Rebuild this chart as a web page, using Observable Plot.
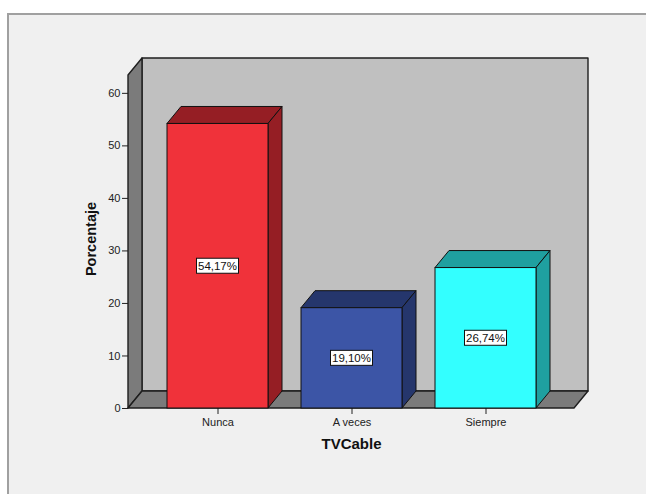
<!DOCTYPE html>
<html><head><meta charset="utf-8">
<script src="https://cdn.jsdelivr.net/npm/d3@7"></script>
<script src="https://cdn.jsdelivr.net/npm/@observablehq/plot@0.6"></script>
<style>
html,body{margin:0;padding:0;background:#fff;overflow:hidden;width:646px;height:494px;}
#frame{position:absolute;left:7px;top:13px;width:700px;height:600px;background:#f0f0f0;border-top:2px solid #a0a0a0;border-left:2px solid #a0a0a0;}
#chart{position:absolute;left:0;top:0;}
</style></head><body>
<div id="frame"></div><div id="chart"></div>
<script>
const categories = ["Nunca", "A veces", "Siempre"];
const percentages = [54.17, 19.10, 26.74];
const valueLabels = ["54,17%", "19,10%", "26,74%"];
const yTicks = [0, 10, 20, 30, 40, 50, 60];
const xTitle = "TVCable";
const yTitle = "Porcentaje";

const data = categories.map((c, i) => ({cat: c, value: percentages[i], label: valueLabels[i]}));
const frontColors = ["#f0323a", "#3c55a6", "#33ffff"];
const darkColors = ["#951e24", "#25366c", "#1fa0a0"];
const DX = 14, DY = 17;
const FONT = "'Liberation Sans', Arial, sans-serif";

function pts(a) { return a.map(p => p.join(",")).join(" "); }
function bw(x) { return typeof x.bandwidth === "function" ? x.bandwidth() : x.bandwidth; }

function walls(index, scales) {
  const x = scales.x, y = scales.y;
  const [x0, x1] = x.range();
  const yb = y(0), yt = y(y.domain()[1]);
  const g = d3.create("svg:g").attr("stroke", "#1e1e1e").attr("stroke-width", 1.4).attr("stroke-linejoin", "round");
  g.append("rect").attr("x", x0 + DX).attr("y", yt - DY).attr("width", x1 - x0).attr("height", yb - yt).attr("fill", "#c0c0c0");
  g.append("polygon").attr("points", pts([[x0, yb], [x0, yt], [x0 + DX, yt - DY], [x0 + DX, yb - DY]])).attr("fill", "#7b7b7b");
  g.append("polygon").attr("points", pts([[x0, yb], [x1, yb], [x1 + DX, yb - DY], [x0 + DX, yb - DY]])).attr("fill", "#7b7b7b");
  return g.node();
}

function barDepth(index, scales) {
  const x = scales.x, y = scales.y, w = bw(x), yb = y(0);
  const g = d3.create("svg:g").attr("stroke", "#111").attr("stroke-width", 1).attr("stroke-linejoin", "round");
  data.forEach((d, i) => {
    const bx = x(d.cat), yv = y(d.value);
    g.append("polygon").attr("fill", darkColors[i])
      .attr("points", pts([[bx, yv], [bx + DX, yv - DY], [bx + w + DX, yv - DY], [bx + w, yv]]));
    g.append("polygon").attr("fill", darkColors[i])
      .attr("points", pts([[bx + w, yv], [bx + w + DX, yv - DY], [bx + w + DX, yb - DY], [bx + w, yb]]));
  });
  return g.node();
}

function valueBoxes(index, scales) {
  const x = scales.x, y = scales.y, w = bw(x);
  const g = d3.create("svg:g");
  data.forEach(d => {
    const cx = x(d.cat) + w / 2, cy = y(d.value / 2);
    g.append("rect").attr("x", cx - 21).attr("y", cy - 7.5).attr("width", 42).attr("height", 15)
      .attr("fill", "#fff").attr("stroke", "#111").attr("stroke-width", 1);
    g.append("text").attr("x", cx).attr("y", cy).attr("dy", "0.36em").attr("text-anchor", "middle")
      .attr("font-size", 11.5).attr("font-family", FONT).attr("fill", "#111").text(d.label);
  });
  return g.node();
}

const chart = Plot.plot({
  width: 646,
  height: 494,
  marginLeft: 128,
  marginRight: 72,
  marginTop: 75,
  marginBottom: 86,
  style: {background: "transparent", fontSize: "11px", fontFamily: FONT, color: "#222"},
  x: {type: "band", domain: categories, paddingInner: 0.2463, paddingOuter: 0.287, tickSize: 6, tickPadding: 4, label: null},
  y: {domain: [0, 63.4], ticks: yTicks, tickSize: 6, tickPadding: 2, label: null},
  color: {domain: categories, range: frontColors},
  marks: [
    walls,
    barDepth,
    Plot.barY(data, {x: "cat", y: "value", fill: "cat", stroke: "#111", strokeWidth: 1}),
    valueBoxes,
    Plot.text([xTitle], {frameAnchor: "bottom", dy: 40, textAnchor: "middle", fontWeight: "bold", fontSize: 15, fill: "#111"}),
    Plot.text([yTitle], {frameAnchor: "left", dx: -37, dy: -3, textAnchor: "middle", rotate: -90, fontWeight: "bold", fontSize: 14.5, fill: "#111"})
  ]
});
document.getElementById("chart").appendChild(chart);
</script>
</body></html>
